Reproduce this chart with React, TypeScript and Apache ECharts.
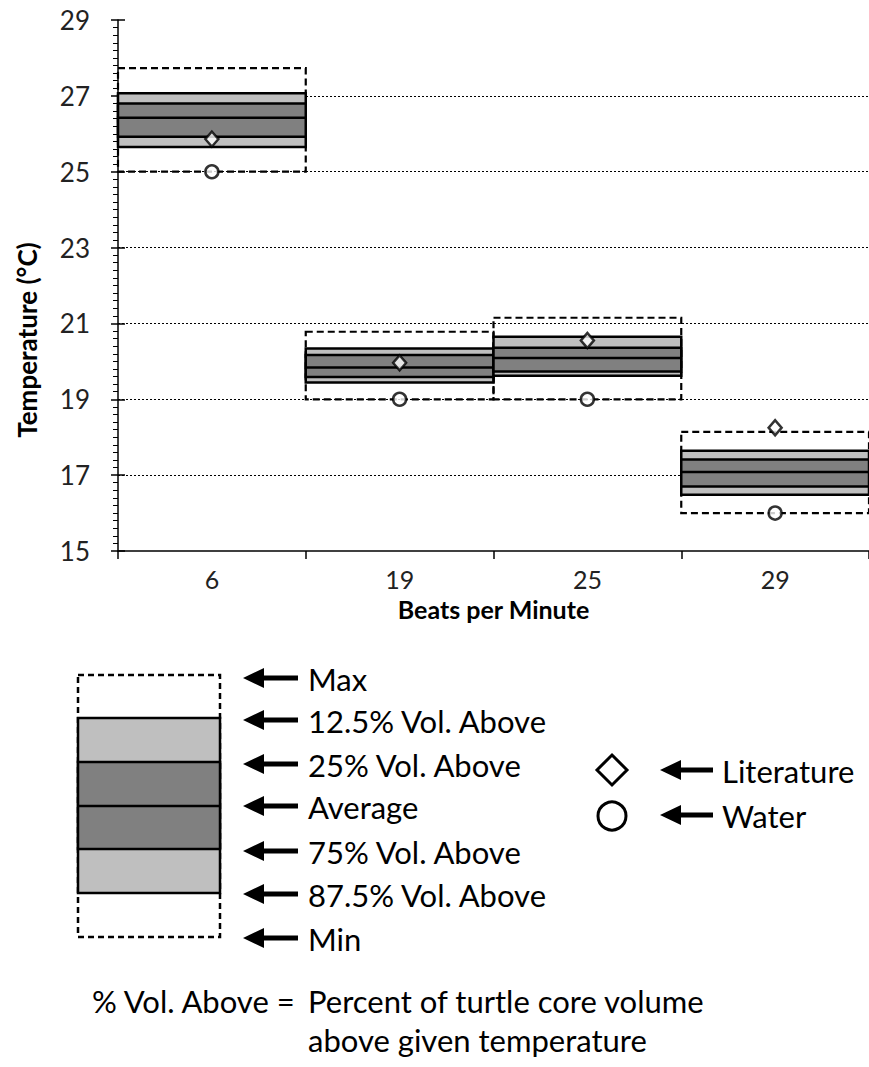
import React, { useEffect, useRef } from "react";
import * as echarts from "echarts";

const categories = ["6", "19", "25", "29"];
const maxT = [27.73, 20.78, 21.15, 18.14];
const p125 = [27.07, 20.34, 20.65, 17.64];
const p25 = [26.8, 20.17, 20.36, 17.41];
const avgT = [26.42, 19.84, 20.09, 17.08];
const p75 = [25.92, 19.59, 19.73, 16.7];
const p875 = [25.65, 19.44, 19.62, 16.48];
const minT = [25.0, 19.0, 19.0, 16.0];
const literature = [25.86, 19.96, 20.55, 18.25];
const water = [25.0, 19.0, 19.0, 16.0];
const yTicks = [15, 17, 19, 21, 23, 25, 27, 29];

const legendRows = [
  "Max",
  "12.5% Vol. Above",
  "25% Vol. Above",
  "Average",
  "75% Vol. Above",
  "87.5% Vol. Above",
  "Min",
];

const FONT = "Lato, 'Open Sans', sans-serif";
const LFS = 31;

function arrow(x: number, y: number, len: number) {
  const hw = 10;
  const hl = 21;
  const sh = 2.5;
  return {
    type: "polygon",
    shape: {
      points: [
        [x, y],
        [x + hl, y - hw],
        [x + hl, y - sh],
        [x + len, y - sh],
        [x + len, y + sh],
        [x + hl, y + sh],
        [x + hl, y + hw],
      ],
    },
    style: { fill: "#000" },
  };
}

function label(text: string, x: number, y: number) {
  return {
    type: "text",
    x,
    y,
    style: {
      text,
      font: `${LFS}px ${FONT}`,
      fill: "#000",
      textVerticalAlign: "middle",
      textAlign: "left",
    },
  };
}

export default function App() {
  const ref = useRef<HTMLDivElement>(null);
  useEffect(() => {
    if (!ref.current) return;
    const chart = echarts.init(ref.current, undefined, { renderer: "svg" });

    const boxData = categories.map((_, i) => [
      i,
      minT[i],
      p875[i],
      p75[i],
      avgT[i],
      p25[i],
      p125[i],
      maxT[i],
    ]);

    const legendYs = [678, 720, 764, 806, 851, 894, 938];
    const graphics: any[] = [];
    graphics.push({
      type: "text",
      x: 27,
      y: 340,
      rotation: Math.PI / 2,
      style: {
        text: "Temperature (°C)",
        font: `bold 26px ${FONT}`,
        fill: "#000",
        textAlign: "center",
        textVerticalAlign: "middle",
      },
    });
    graphics.push({
      type: "rect",
      shape: { x: 78, y: 675, width: 142, height: 262 },
      style: { fill: "none", stroke: "#000", lineWidth: 2.5, lineDash: [6, 4] },
    });
    graphics.push({
      type: "rect",
      shape: { x: 78, y: 718, width: 142, height: 175 },
      style: { fill: "#bfbfbf", stroke: "#000", lineWidth: 2.5 },
    });
    graphics.push({
      type: "rect",
      shape: { x: 78, y: 762, width: 142, height: 87 },
      style: { fill: "#808080", stroke: "#000", lineWidth: 2.5 },
    });
    graphics.push({
      type: "line",
      shape: { x1: 78, y1: 806, x2: 220, y2: 806 },
      style: { stroke: "#000", lineWidth: 2.5 },
    });
    legendRows.forEach((t, i) => {
      graphics.push(arrow(243, legendYs[i], 55));
      graphics.push(label(t, 308, legendYs[i] + 1));
    });
    graphics.push({
      type: "polygon",
      shape: {
        points: [
          [612, 755],
          [627, 770],
          [612, 785],
          [597, 770],
        ],
      },
      style: { fill: "#fff", stroke: "#000", lineWidth: 3 },
    });
    graphics.push(arrow(660, 770, 53));
    graphics.push(label("Literature", 722, 771));
    graphics.push({
      type: "circle",
      shape: { cx: 612, cy: 816, r: 14 },
      style: { fill: "#fff", stroke: "#000", lineWidth: 3 },
    });
    graphics.push(arrow(660, 815, 53));
    graphics.push(label("Water", 722, 816));
    graphics.push(label("% Vol. Above =", 92, 1001));
    graphics.push(label("Percent of turtle core volume", 308, 1001));
    graphics.push(label("above given temperature", 308, 1040));

    chart.setOption({
      animation: false,
      backgroundColor: "#fff",
      textStyle: { fontFamily: FONT },
      grid: { left: 118, top: 20, width: 756, height: 531, containLabel: false },
      xAxis: {
        type: "category",
        data: categories,
        boundaryGap: true,
        name: "Beats per Minute",
        nameLocation: "middle",
        nameGap: 45,
        nameTextStyle: { fontSize: 25, fontWeight: "bold", color: "#000", fontFamily: FONT, lineHeight: 26 },
        axisLine: { lineStyle: { color: "#000", width: 1.5 } },
        axisTick: { show: true, length: 8, interval: 0, alignWithLabel: false, lineStyle: { color: "#000", width: 1.5 } },
        axisLabel: { fontSize: 25, color: "#222", margin: 15, fontFamily: FONT, lineHeight: 26 },
        splitLine: { show: false },
      },
      yAxis: [
        {
          type: "value",
          min: yTicks[0],
          max: yTicks[yTicks.length - 1],
          interval: 2,
          axisLine: { show: true, lineStyle: { color: "#000", width: 1.5 } },
          axisTick: { show: true, length: 7, lineStyle: { color: "#000", width: 1.5 } },
          minorTick: { show: true, splitNumber: 10, length: 5, lineStyle: { color: "#000", width: 1 } },
          axisLabel: { fontSize: 26, color: "#222", margin: 28, fontFamily: FONT },
          splitLine: {
            show: true,
            showMinLine: false,
            showMaxLine: false,
            lineStyle: { color: "#000", width: 1.2, type: [2, 2] },
          },
        },
        {
          type: "value",
          min: yTicks[0],
          max: yTicks[yTicks.length - 1],
          interval: 2,
          position: "left",
          axisLine: { show: false },
          axisTick: { show: true, inside: true, length: 7, lineStyle: { color: "#000", width: 1.5 } },
          axisLabel: { show: false },
          splitLine: { show: false },
        },
      ],
      series: [
        {
          type: "custom",
          data: boxData,
          encode: { x: 0, y: [1, 2, 3, 4, 5, 6, 7] },
          z: 2,
          renderItem: (params: any, api: any) => {
            const idx = api.value(0);
            const w = api.size([1, 0])[0];
            const cx = api.coord([idx, api.value(1)])[0];
            const x0 = cx - w / 2;
            const y = (d: number) => api.coord([idx, api.value(d)])[1];
            return {
              type: "group",
              children: [
                {
                  type: "rect",
                  shape: { x: x0, y: y(7), width: w, height: y(1) - y(7) },
                  style: { fill: "none", stroke: "#000", lineWidth: 2.2, lineDash: [7, 4] },
                },
                {
                  type: "rect",
                  shape: { x: x0, y: y(6), width: w, height: y(2) - y(6) },
                  style: { fill: "#bfbfbf", stroke: "#000", lineWidth: 2.5 },
                },
                {
                  type: "rect",
                  shape: { x: x0, y: y(5), width: w, height: y(3) - y(5) },
                  style: { fill: "#808080", stroke: "#000", lineWidth: 2.5 },
                },
                {
                  type: "line",
                  shape: { x1: x0, y1: y(4), x2: x0 + w, y2: y(4) },
                  style: { stroke: "#000", lineWidth: 2.5 },
                },
              ],
            };
          },
        },
        {
          type: "scatter",
          name: "Literature",
          data: literature.map((v, i) => [i, v]),
          symbol: "diamond",
          symbolSize: [13, 15],
          itemStyle: { color: "#fff", borderColor: "#000", borderWidth: 2.5 },
          z: 5,
        },
        {
          type: "scatter",
          name: "Water",
          data: water.map((v, i) => [i, v]),
          symbol: "circle",
          symbolSize: 13,
          itemStyle: { color: "#fff", borderColor: "#000", borderWidth: 2.5 },
          z: 5,
        },
      ],
      graphic: graphics,
    });
    return () => chart.dispose();
  }, []);
  return (
    <div
      ref={ref}
      style={{ position: "absolute", left: 0, top: 0, width: 869, height: 1067 }}
    />
  );
}
